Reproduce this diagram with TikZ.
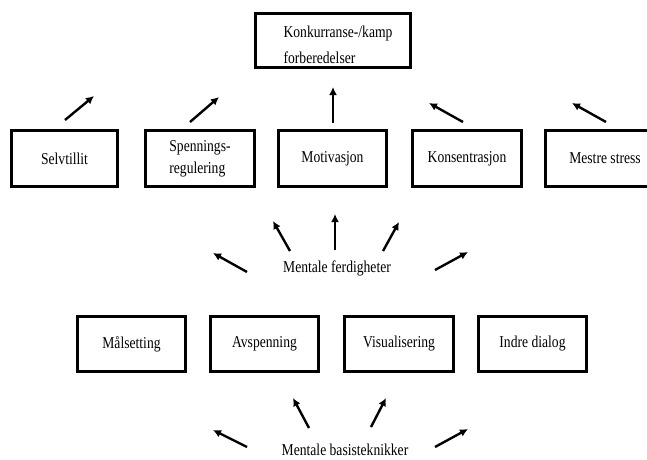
\documentclass[tikz,border=0pt]{standalone}
\usepackage{fontspec}
\setmainfont[FakeStretch=0.82]{Liberation Serif}
\usepackage{tikz}
\usetikzlibrary{arrows.meta, positioning}

\newcommand{\tekst}{\fontsize{16.6}{22}\selectfont}

\begin{document}
\begin{tikzpicture}[
  x=1pt, y=-1pt,
  boks/.style={draw, line width=2.6pt, minimum height=56pt, inner sep=2pt,
               align=left, font=\tekst},
  pil/.style={-{Latex[length=8pt, width=8pt]}, line width=2.4pt},
  etikett/.style={font=\tekst, inner sep=0pt, anchor=base}
]
  \clip (0,0) rectangle (647,459);

  % toppen
  \node[boks, minimum width=155pt, minimum height=54pt] (kamp) at (333,40.5)
    {\rule{0pt}{20pt}\hspace*{10pt}Konkurranse-/kamp\\[4pt]\hspace*{10pt}forberedelser};

  % mentale ferdigheter
  \node[boks, minimum width=106pt] (selv)   at (64.5,158.5) {Selvtillit};
  \node[boks, minimum width=109pt] (spenn)  at (200,158.5)  {Spennings-\\regulering};
  \node[boks, minimum width=108pt] (motiv)  at (332.5,158.5) {Motivasjon};
  \node[boks, minimum width=109pt] (kons)   at (467,158.5)  {Konsentrasjon};
  \node[boks, minimum width=119pt] (mestre) at (605,158.5)  {Mestre stress};

  \node[etikett] (ferdig) at (337,272) {Mentale ferdigheter};

  % mentale basisteknikker
  \node[boks, minimum width=108pt, minimum height=55pt] (maal)  at (131.5,344) {Målsetting};
  \node[boks, minimum width=108pt, minimum height=55pt] (avsp)  at (264.5,344) {Avspenning};
  \node[boks, minimum width=109pt, minimum height=55pt] (visu)  at (399,344)   {Visualisering};
  \node[boks, minimum width=108pt, minimum height=55pt] (indre) at (532.5,344) {Indre dialog};

  \node[etikett] (basis) at (345,455) {Mentale basisteknikker};

  % piler
  \foreach \navn/\xa/\ya/\xb/\yb in {
      selv/65/120/94/96, spenn/190/122/219/97, motiv/333/123/333/87,
      kons/463/122/429/103, mestre/606/122/572/103,
      ferdig1/247/272/213/253, ferdig2/290/251/273/221, ferdig3/335/250/335/214,
      ferdig4/383/251/399/222, ferdig5/435/270/468/252,
      basis1/247/447/213/430, basis2/309/428/293/398,
      basis3/371/427/386/398, basis4/435/447/468/429}
  {
    \coordinate (\navn-fra) at (\xa,\ya);
    \coordinate (\navn-til) at (\xb,\yb);
    \draw[pil] (\navn-fra) -- (\navn-til);
  }
\end{tikzpicture}
\end{document}
